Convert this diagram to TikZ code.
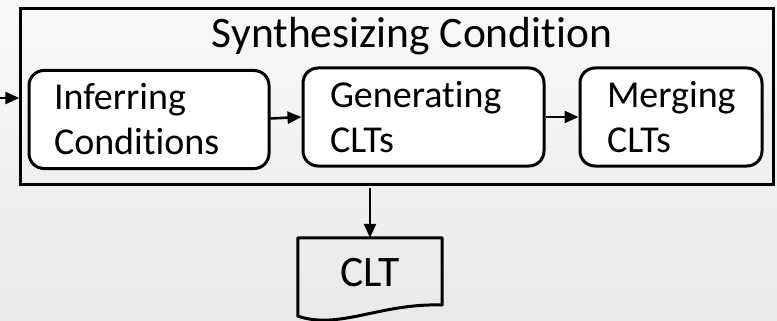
\documentclass[tikz,border=0pt]{standalone}
\usepackage{fontspec}
\setmainfont{Carlito}[Ligatures=NoCommon]
\usetikzlibrary{arrows.meta}
\definecolor{bgtop}{RGB}{249,249,249}
\definecolor{bgbot}{RGB}{233,233,233}
\tikzset{
  frame/.style={draw, line width=3pt, inner sep=0pt},
  stage/.style={draw, line width=3pt, fill=white, rounded corners=15pt,
    align=left, inner ysep=0pt, minimum height=98pt,
    font=\fontsize{38}{45}\selectfont},
  flow/.style={line width=2.6pt, -{Triangle[length=14pt,width=12pt]}},
  bigtext/.style={font=\fontsize{43.5}{50}\selectfont, inner sep=0pt}
}
\begin{document}
\begin{tikzpicture}[x=1pt,y=-1pt]
  % canvas and soft backdrop
  \useasboundingbox (0,0) rectangle (777,321);
  \shade[top color=bgtop, bottom color=bgbot] (0,0) rectangle (777,321);

  % enclosing process
  \node[frame, minimum width=753pt, minimum height=176pt] (outer) at (397.3,96.5) {};
  \node[bigtext, anchor=base] (title) at (412,48) {Synthesizing Condition};

  % the three stages
  \node[stage, text width=190pt, inner xsep=25pt] (infer) at (149,119.5) {Inferring\\Conditions};
  \node[stage, text width=187pt, inner xsep=27pt] (gen) at (423.5,117) {Generating\\CLTs};
  \node[stage, text width=128pt, inner xsep=27pt] (merge) at (671,117) {Merging\\CLTs};

  % output document
  \node[minimum width=144pt, minimum height=78pt, inner sep=0pt] (doc) at (370,277) {};
  \draw[line width=3pt, line join=round]
    (doc.south west) -- (doc.north west) -- (doc.north east) -- (442,305)
    .. controls (380,303) and (340,330) .. (doc.south west) -- cycle;
  \node[bigtext, anchor=base] (clt) at (370,286) {CLT};

  % connectors
  \coordinate (src) at (0,98);
  \draw[flow] (src) -- (src -| outer.west);
  \draw[flow] ([yshift=1pt]infer.east) -- ([yshift=0pt]gen.west);
  \draw[flow] (gen.east) -- (merge.west);
  \draw[flow] ([yshift=-2pt]outer.south -| doc.north) -- (doc.north);
\end{tikzpicture}
\end{document}
